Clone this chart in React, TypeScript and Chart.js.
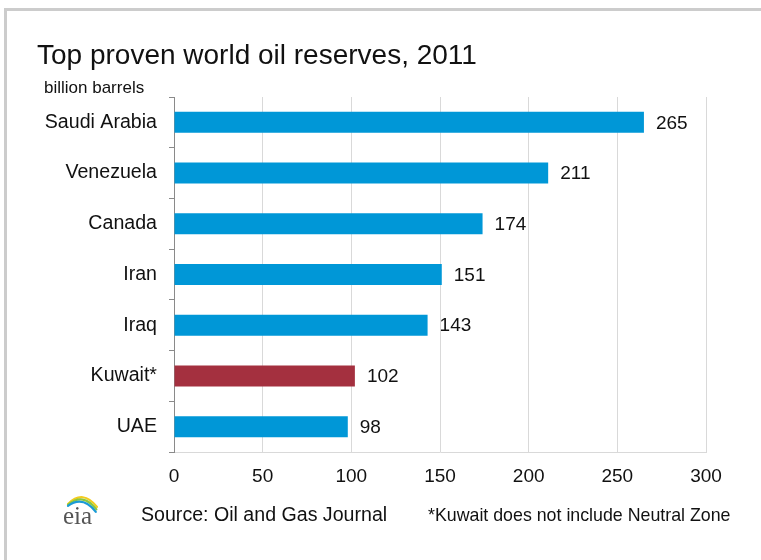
import React, { useEffect, useRef } from 'react';
import { Chart, registerables } from 'chart.js';

Chart.register(...registerables);

const categories = ['Saudi Arabia', 'Venezuela', 'Canada', 'Iran', 'Iraq', 'Kuwait*', 'UAE'];
const reserves = [265, 211, 174, 151, 143, 102, 98];
const highlighted = ['Kuwait*'];
const xMin = 0;
const xMax = 300;
const xStep = 50;
const titleText = 'Top proven world oil reserves, 2011';
const unitText = 'billion barrels';
const sourceText = 'Source: Oil and Gas Journal';
const noteText = '*Kuwait does not include Neutral Zone';

const FONT = '"Liberation Sans", Arial, sans-serif';
const BLUE = '#0097d7';
const RED = '#a4303f';
const TEXT = '#111111';

const valueLabels = {
  id: 'valueLabels',
  afterDatasetsDraw(chart: any) {
    const ctx = chart.ctx;
    const meta = chart.getDatasetMeta(0);
    ctx.save();
    ctx.font = `19px ${FONT}`;
    ctx.fillStyle = TEXT;
    ctx.textAlign = 'left';
    ctx.textBaseline = 'middle';
    meta.data.forEach((bar: any, i: number) => {
      ctx.fillText(String(reserves[i]), bar.x + 12, bar.y + 1);
    });
    ctx.restore();
  },
};

const annotations = {
  id: 'annotations',
  afterDraw(chart: any) {
    const ctx = chart.ctx;
    ctx.save();
    ctx.fillStyle = TEXT;
    ctx.textAlign = 'left';
    ctx.textBaseline = 'alphabetic';
    ctx.font = `28px ${FONT}`;
    ctx.fillText(titleText, 37, 64);
    ctx.font = `17px ${FONT}`;
    ctx.fillText(unitText, 44, 93);
    ctx.font = `19.6px ${FONT}`;
    ctx.fillText(sourceText, 141, 521);
    ctx.font = `17.8px ${FONT}`;
    ctx.fillText(noteText, 428, 521);

    // eia logo
    ctx.fillStyle = '#555555';
    ctx.font = `25px "Liberation Serif", "DejaVu Serif", serif`;
    ctx.fillText('eia', 63, 524);
    ctx.lineCap = 'round';
    const arcs = [
      { c: '#f2cc1f', y: 0 },
      { c: '#8cc63f', y: 3 },
      { c: '#1a9ad6', y: 6 },
    ];
    arcs.forEach((a) => {
      ctx.strokeStyle = a.c;
      ctx.lineWidth = 2.2;
      ctx.beginPath();
      ctx.moveTo(68, 504 + a.y * 0.3);
      ctx.quadraticCurveTo(83, 489 + a.y, 97 - a.y * 0.2, 507 + a.y * 0.8);
      ctx.stroke();
    });
    ctx.restore();
  },
};

export default function App() {
  const ref = useRef<HTMLCanvasElement | null>(null);

  useEffect(() => {
    if (!ref.current) return;
    const chart = new Chart(ref.current, {
      type: 'bar',
      data: {
        labels: categories,
        datasets: [
          {
            data: reserves,
            backgroundColor: categories.map((c) => (highlighted.includes(c) ? RED : BLUE)),
            barPercentage: 0.414,
            categoryPercentage: 1,
            borderWidth: 0,
          },
        ],
      },
      options: {
        indexAxis: 'y',
        animation: false,
        responsive: false,
        layout: { padding: { top: 97, right: 55, bottom: 48, left: 0 } },
        plugins: {
          legend: { display: false },
          tooltip: { enabled: false },
          title: { display: false },
        },
        scales: {
          x: {
            type: 'linear',
            min: xMin,
            max: xMax,
            ticks: {
              stepSize: xStep,
              font: { family: FONT, size: 19 },
              color: TEXT,
              padding: 13,
              maxRotation: 0,
            },
            grid: { color: '#d9d9d9', drawTicks: false, lineWidth: 1 },
            border: { color: '#d9d9d9' },
            afterFit: (s: any) => {
              s.height = 60;
            },
          },
          y: {
            type: 'category',
            offset: true,
            ticks: {
              font: { family: FONT, size: 19.6 },
              color: TEXT,
              padding: 12,
            },
            grid: {
              offset: true,
              drawOnChartArea: false,
              drawTicks: true,
              tickLength: 5,
              color: '#8a8a8a',
            },
            border: { color: '#8a8a8a' },
            afterFit: (s: any) => {
              s.width = 174;
            },
          },
        },
      },
      plugins: [valueLabels, annotations],
    });
    return () => chart.destroy();
  }, []);

  return (
    <div style={{ position: 'absolute', left: 0, top: 0, width: 761, height: 560, background: '#ffffff', overflow: 'hidden' }}>
      <div
        style={{
          position: 'absolute',
          left: 4,
          top: 8,
          width: 800,
          height: 600,
          borderTop: '3px solid #cccccc',
          borderLeft: '3px solid #cccccc',
        }}
      />
      <canvas ref={ref} width={761} height={560} style={{ position: 'absolute', left: 0, top: 0 }} />
    </div>
  );
}
